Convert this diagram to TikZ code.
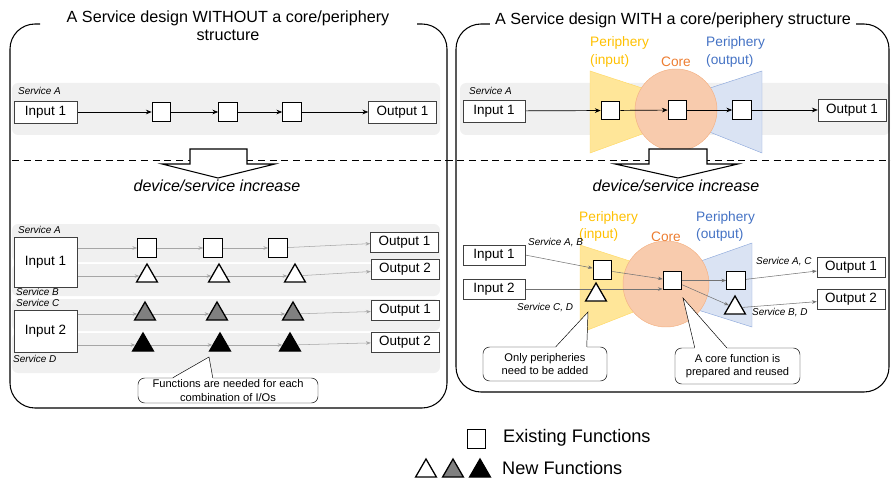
\documentclass[tikz,border=0pt]{standalone}
\usepackage{xcolor}
\usepackage{fontspec}
\setmainfont{Liberation Sans}
\usepackage{tikz}
\usetikzlibrary{arrows.meta,shapes.geometric,backgrounds,calc}

\definecolor{perin}{HTML}{FFC000}
\definecolor{perinfill}{HTML}{FFE699}
\definecolor{perinline}{HTML}{FFD966}
\definecolor{coreo}{HTML}{ED7D31}
\definecolor{corefill}{HTML}{F8CBAD}
\definecolor{coreline}{HTML}{F4B183}
\definecolor{perout}{HTML}{4472C4}
\definecolor{peroutfill}{HTML}{DAE3F3}
\definecolor{peroutline}{HTML}{8FAADC}

\begin{document}
\begin{tikzpicture}[x=0.03cm, y=-0.03cm,
    io/.style={draw=black!75, fill=white, inner sep=0pt, minimum width=1.89cm, minimum height=0.66cm, font=\fontsize{11.5}{13}\selectfont},
    outbox/.style={io, minimum width=2.04cm},
    fn/.style={draw, line width=1.1pt, fill=white, inner sep=0pt, minimum size=0.55cm},
    newfn/.style={regular polygon, regular polygon sides=3, draw, line width=1.1pt, inner sep=0pt, minimum size=0.72cm},
    svc/.style={font=\fontsize{8.5}{10}\selectfont\itshape, inner sep=0pt, anchor=west},
    flow/.style={-{Stealth[length=5pt, width=4pt]}, line width=0.6pt},
    gflow/.style={-{Stealth[length=4pt, width=3pt]}, draw=black!35, line width=0.45pt},
    dflow/.style={gflow, draw=black!55},
    band/.style={fill=black!6, rounded corners=0.18cm},
    frame/.style={line width=0.9pt, rounded corners=0.75cm},
    note/.style={draw, fill=white, rounded corners=0.2cm, align=center, inner sep=0pt, font=\fontsize{9.5}{11.5}\selectfont},
    bigarrow/.style={draw, line width=0.9pt, fill=white},
    title/.style={font=\fontsize{13.8}{15}\selectfont, align=center},
    plabel/.style={font=\fontsize{11.7}{15}\selectfont, align=left, anchor=west, inner sep=0pt},
    legend/.style={font=\fontsize{15.5}{18}\selectfont, anchor=west, inner sep=0pt}]
    \useasboundingbox (0,0) rectangle (891,480);

    % the two panels and their titles
    \draw[frame] (40,24) -- (10,24) -- (10,408) -- (447,408) -- (447,24) -- (417,24);
    \draw[frame] (456,24) rectangle (889,392);
    \node[title] (titleL) at (228,26) {A Service design WITHOUT a core/periphery\\structure};
    \node[title, fill=white, inner xsep=4pt] (titleR) at (673,20) {A Service design WITH a core/periphery structure};

    % gray service bands, periphery and core areas
    \begin{pgfonlayer}{background}
        \fill[band] (12,83) rectangle (440,135);
        \fill[band] (460,83) rectangle (890,135);
        \fill[band] (12,224) rectangle (440,262);
        \fill[band] (12,264) rectangle (440,296);
        \fill[band] (12,299) rectangle (440,331);
        \fill[band] (12,333) rectangle (440,373);
        \filldraw[draw=perinline, fill=perinfill] (590,71) -- (645,89) -- (645,133) -- (590,153) -- cycle;
        \filldraw[draw=peroutline, fill=peroutfill] (762,71) -- (707,89) -- (707,131) -- (762,153) -- cycle;
        \filldraw[draw=coreline, fill=corefill] (676,110) circle (1.23cm);
        \filldraw[draw=perinline, fill=perinfill] (580,245) -- (636,263) -- (636,311) -- (580,333) -- cycle;
        \filldraw[draw=peroutline, fill=peroutfill] (752,243) -- (698,262) -- (698,310) -- (752,327) -- cycle;
        \filldraw[draw=coreline, fill=corefill] (666,284) circle (1.29cm);
    \end{pgfonlayer}

    % separation and the two big arrows
    \draw[dashed, dash pattern=on 6pt off 4pt, line width=0.8pt] (12,160) -- (891,160);
    \draw[bigarrow] (190,149) -- (247,149) -- (247,164) -- (275,164) -- (218,178) -- (162,164) -- (190,164) -- cycle;
    \draw[bigarrow] (649,149) -- (707,149) -- (707,164) -- (738,164) -- (678,178) -- (615,164) -- (649,164) -- cycle;
    \node[font=\fontsize{13.7}{15}\selectfont\itshape] (incL) at (217,186) {device/service increase};
    \node[font=\fontsize{13.7}{15}\selectfont\itshape] (incR) at (676,186) {device/service increase};

    % left, before
    \node[svc] (svcA) at (18,91) {Service A};
    \node[io] (inA) at (45.5,112) {Input 1};
    \node[fn] (fA1) at (161.5,112) {};
    \node[fn] (fA2) at (228,112) {};
    \node[fn] (fA3) at (292,112) {};
    \node[outbox] (outA) at (402.5,112) {Output 1};

    % left, after
    \node[svc] (svcLA) at (18,230) {Service A};
    \node[svc] (svcLB) at (16,292) {Service B};
    \node[svc] (svcLC) at (16,303) {Service C};
    \node[svc] (svcLD) at (13,359) {Service D};
    \node[io, minimum height=1.5cm] (in1) at (45.5,262) {Input 1};
    \node[io, minimum height=1.26cm] (in2) at (45.5,331) {Input 2};
    \node[fn] (sqA1) at (147,248) {};
    \node[fn] (sqA2) at (213,248) {};
    \node[fn] (sqA3) at (278,248) {};
    \node[newfn, fill=white] (trB1) at (147,276) {};
    \node[newfn, fill=white] (trB2) at (219,276) {};
    \node[newfn, fill=white] (trB3) at (295,276) {};
    \node[newfn, fill=gray] (trC1) at (145,314) {};
    \node[newfn, fill=gray] (trC2) at (217,314) {};
    \node[newfn, fill=gray] (trC3) at (293,314) {};
    \node[newfn, fill=black] (trD1) at (143,345) {};
    \node[newfn, fill=black] (trD2) at (220,345) {};
    \node[newfn, fill=black] (trD3) at (290,345) {};
    \node[outbox, minimum height=0.6cm] (oA) at (404.5,242) {Output 1};
    \node[outbox, minimum height=0.6cm] (oB) at (405,269.5) {Output 2};
    \node[outbox, minimum height=0.6cm] (oC) at (405,310.5) {Output 1};
    \node[outbox, minimum height=0.6cm] (oD) at (405,342) {Output 2};

    % right, before
    \node[plabel, text=perin] (pinA) at (590,52) {Periphery\\(input)};
    \node[font=\fontsize{11.7}{13}\selectfont, text=coreo] (coreA) at (676,62) {Core};
    \node[plabel, text=perout] (poutA) at (706,52) {Periphery\\(output)};
    \node[svc] (svcRA) at (469,91) {Service A};
    \node[io, minimum width=1.86cm] (inRA) at (494,111) {Input 1};
    \node[fn] (pA) at (610.5,110.5) {};
    \node[fn] (cA) at (677.5,110) {};
    \node[fn] (qA) at (742,110) {};
    \node[outbox] (outRA) at (852,110) {Output 1};

    % right, after
    \node[plabel, text=perin] (pinB) at (579,226.5) {Periphery\\(input)};
    \node[font=\fontsize{11.7}{13}\selectfont, text=coreo] (coreB) at (666,237) {Core};
    \node[plabel, text=perout] (poutB) at (696,226.5) {Periphery\\(output)};
    \node[io, minimum width=1.86cm, minimum height=0.6cm] (inR1) at (494,255) {Input 1};
    \node[io, minimum width=1.86cm, minimum height=0.6cm] (inR2) at (494,289) {Input 2};
    \node[fn] (sqP) at (602.5,270) {};
    \node[newfn, fill=white] (triP) at (596,295) {};
    \node[fn] (sqC) at (672.5,280.5) {};
    \node[fn] (sqO) at (736,280.5) {};
    \node[newfn, fill=white] (triO) at (735,308) {};
    \node[outbox, minimum height=0.6cm] (outR1) at (851,267) {Output 1};
    \node[outbox, minimum height=0.6cm] (outR2) at (851,299) {Output 2};
    \node[svc] (svcAB) at (528,243) {Service A, B};
    \node[svc] (svcCD) at (517,308) {Service C, D};
    \node[svc] (svcAC) at (756,262) {Service A, C};
    \node[svc] (svcBD) at (752,313) {Service B, D};

    % connectors
    \begin{pgfonlayer}{background}
        \draw[flow] (inA) -- (fA1);
        \draw[flow] (fA1) -- (fA2);
        \draw[flow] (fA2) -- (fA3);
        \draw[flow] (fA3) -- (outA);
        \draw[gflow] (in1.east |- sqA1) -- (sqA1);
        \draw[gflow] (sqA1) -- (sqA2);
        \draw[gflow] (sqA2) -- (sqA3);
        \draw[gflow] (sqA3) -- (oA);
        \draw[gflow] (in1.east |- trB1) -- (trB1);
        \draw[gflow] (trB1) -- (trB2);
        \draw[gflow] (trB2) -- (trB3);
        \draw[gflow] (trB3) -- (oB);
        \draw[gflow] (in2.east |- trC1) -- (trC1);
        \draw[gflow] (trC1) -- (trC2);
        \draw[gflow] (trC2) -- (trC3);
        \draw[gflow] (trC3) -- (oC);
        \draw[gflow] (in2.east |- trD1) -- (trD1);
        \draw[gflow] (trD1) -- (trD2);
        \draw[gflow] (trD2) -- (trD3);
        \draw[gflow] (trD3) -- (oD);
        \draw[flow] (inRA) -- (pA);
        \draw[flow] (pA) -- (cA);
        \draw[flow] (cA) -- (qA);
        \draw[flow] (qA) -- (outRA);
        \draw[dflow] (inR1.east) -- (sqP);
        \draw[dflow] (sqP) -- (sqC);
        \draw[dflow] (inR2.east) -- (inR2 -| sqC.west);
        \draw[dflow] (sqC) -- (sqO);
        \draw[dflow] (sqC) -- (triO);
        \draw[dflow] (sqO) -- (outR1);
        \draw[dflow] (triO) -- (outR2);
    \end{pgfonlayer}

    % callouts
    \node[note, minimum width=5.4cm, minimum height=0.75cm] (noteL) at (228,390.5) {Functions are needed for each\\combination of I/Os};
    \coordinate (tipL) at (209,357);
    \fill[white] ($(noteL.north west)+(35,1)$) -- (tipL) -- ($(noteL.north west)+(75,1)$) -- cycle;
    \draw ($(noteL.north west)+(35,0)$) -- (tipL) -- ($(noteL.north west)+(75,0)$);
    \node[note, minimum width=3.72cm, minimum height=1.02cm] (noteP) at (545,364) {Only peripheries\\need to be added};
    \coordinate (tipP) at (588,312);
    \fill[white] ($(noteP.north west)+(73,1)$) -- (tipP) -- ($(noteP.north west)+(104,1)$) -- cycle;
    \draw ($(noteP.north west)+(73,0)$) -- (tipP) -- ($(noteP.north west)+(104,0)$);
    \node[note, minimum width=3.75cm, minimum height=1.08cm] (noteC) at (737.5,366) {A core function is\\prepared and reused};
    \coordinate (tipC) at (683,298);
    \fill[white] ($(noteC.north west)+(20,1)$) -- (tipC) -- ($(noteC.north west)+(52,1)$) -- cycle;
    \draw ($(noteC.north west)+(20,0)$) -- (tipC) -- ($(noteC.north west)+(52,0)$);

    % legend
    \node[fn] (lgSq) at (476.5,439) {};
    \node[legend] (lgOld) at (503,438) {Existing Functions};
    \node[newfn, fill=white] (lgT1) at (426,471) {};
    \node[newfn, fill=gray] (lgT2) at (453,471) {};
    \node[newfn, fill=black] (lgT3) at (480,471) {};
    \node[legend] (lgNew) at (502,468) {New Functions};
\end{tikzpicture}
\end{document}
